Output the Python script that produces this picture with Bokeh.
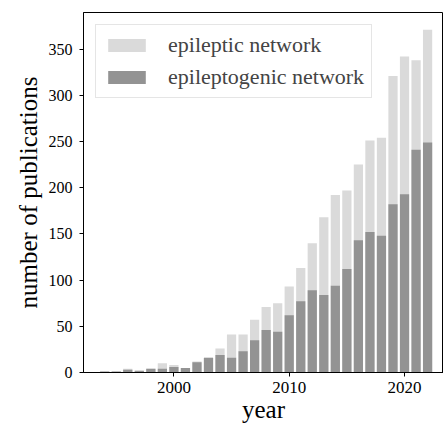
from bokeh.plotting import figure
from bokeh.models import ColumnDataSource, Range1d, Legend, LegendItem, FixedTicker
from bokeh.embed import file_html
from bokeh.resources import INLINE

years = list(range(1994, 2023))
epileptic = [1, 1, 4, 2, 4, 10, 8, 5, 12, 16, 26, 41, 41, 57, 71, 75, 93, 113,
             140, 168, 192, 197, 225, 251, 254, 321, 342, 338, 371]
epileptogenic = [1, 1, 3, 2, 4, 4, 6, 5, 11, 16, 19, 16, 23, 35, 46, 44, 62, 77,
                 89, 84, 94, 112, 143, 152, 148, 182, 193, 241, 249]
x_ticks = [2000, 2010, 2020]
y_ticks = [0, 50, 100, 150, 200, 250, 300, 350]

FONT = "'Liberation Serif', serif"
src = ColumnDataSource(dict(year=years, a=epileptic, b=epileptogenic))

p = figure(width=443, height=425, output_backend="svg", toolbar_location=None,
           x_range=Range1d(1992.16, 2023.38), y_range=Range1d(0, 389.6),
           min_border_left=83, min_border_right=0, min_border_top=12, min_border_bottom=0)

r1 = p.vbar(x="year", top="a", width=0.8, source=src, fill_color="#dadada", line_color=None)
r2 = p.vbar(x="year", top="b", width=0.8, source=src, fill_color="#939393", line_color=None)

p.xgrid.visible = False
p.ygrid.visible = False
p.outline_line_color = "black"
p.outline_line_width = 1

p.axis.axis_line_color = "black"
p.axis.major_tick_line_color = "black"
p.axis.major_tick_out = 4
p.axis.major_tick_in = 0
p.axis.minor_tick_line_color = None
p.axis.major_label_text_font = FONT
p.axis.major_label_text_font_style = "normal"
p.axis.major_label_text_color = "black"
p.axis.axis_label_text_font = FONT
p.axis.axis_label_text_font_size = "25px"
p.axis.axis_label_text_font_style = "normal"
p.axis.axis_label_text_color = "black"
p.xaxis.major_label_text_font_size = "17px"
p.yaxis.major_label_text_font_size = "16px"

p.xaxis.ticker = FixedTicker(ticks=x_ticks)
p.yaxis.ticker = FixedTicker(ticks=y_ticks)
p.xaxis.axis_label = "year"
p.yaxis.axis_label = "number of publications"
p.xaxis.major_label_standoff = 5
p.yaxis.major_label_standoff = 7
p.xaxis.axis_label_standoff = 0
p.yaxis.axis_label_standoff = 4

legend = Legend(items=[LegendItem(label="epileptic network", renderers=[r1]),
                       LegendItem(label="epileptogenic network", renderers=[r2])],
                location="top_left")
legend.margin = 12
legend.padding = 7
legend.spacing = 6
legend.glyph_width = 47
legend.glyph_height = 16
legend.label_standoff = 18
legend.label_text_font = FONT
legend.label_text_font_size = "22px"
legend.border_line_color = "#cccccc"
legend.border_line_width = 1
legend.background_fill_alpha = 0.8
p.add_layout(legend)

open("out.html", "w").write(file_html(p, INLINE))
